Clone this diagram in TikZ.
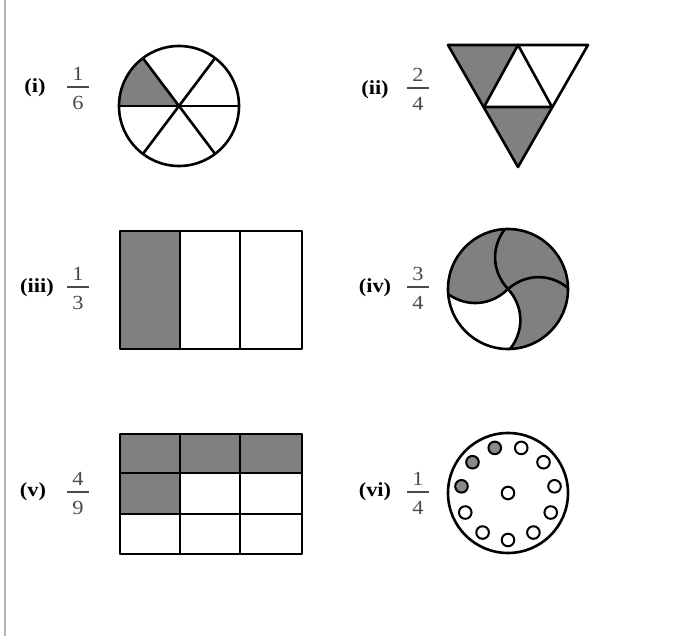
\documentclass[tikz,border=0pt]{standalone}
\usepackage{fontspec}
\usepackage{graphicx}
\setmainfont{Liberation Serif}
\definecolor{partgray}{HTML}{808080}
\definecolor{dotgray}{HTML}{8A8A8A}
\definecolor{fracgray}{HTML}{4A4A4A}
\definecolor{edge}{HTML}{B4B4B4}
\newcommand{\wide}[1]{\scalebox{1.12}[1]{#1}}
\begin{document}
\begin{tikzpicture}[x=1pt,y=-1pt,line join=round,
  outline/.style={draw=black,line width=2.6pt},
  lab/.style={font=\fontsize{20}{20}\selectfont\bfseries,text=black,anchor=base,inner sep=0pt},
  num/.style={font=\fontsize{20}{20}\selectfont,text=fracgray,anchor=base,inner sep=0pt},
  fbar/.style={draw=fracgray,line width=1.2pt},
  dot/.style={draw=black,line width=2pt,fill=white},
  gdot/.style={draw=black,line width=2pt,fill=dotgray}]
\useasboundingbox (0,0) rectangle (673,636);
\draw[draw=edge,line width=2pt] (5,0) -- (5,636);

% ---- labels and fractions ----
\node[lab] (li) at (35,93) {\wide{(i)}};
\node[num] (n1) at (78,81) {\wide{1}};
\node[num] (d1) at (78,110) {\wide{6}};
\draw[fbar] (67,87) -- (89,87);

\node[lab] (lii) at (375,95) {\wide{(ii)}};
\node[num] (n2) at (418,82) {\wide{2}};
\node[num] (d2) at (418,111) {\wide{4}};
\draw[fbar] (407,88) -- (429,88);

\node[lab] (liii) at (37,293) {\wide{(iii)}};
\node[num] (n3) at (78,281) {\wide{1}};
\node[num] (d3) at (78,310) {\wide{3}};
\draw[fbar] (67,287) -- (89,287);

\node[lab] (liv) at (375,293) {\wide{(iv)}};
\node[num] (n4) at (418,281) {\wide{3}};
\node[num] (d4) at (418,310) {\wide{4}};
\draw[fbar] (407,287) -- (429,287);

\node[lab] (lv) at (33,497) {\wide{(v)}};
\node[num] (n5) at (78,486) {\wide{4}};
\node[num] (d5) at (78,515) {\wide{9}};
\draw[fbar] (67,492) -- (89,492);

\node[lab] (lvi) at (375,497) {\wide{(vi)}};
\node[num] (n6) at (418,486) {\wide{1}};
\node[num] (d6) at (418,515) {\wide{4}};
\draw[fbar] (407,492) -- (429,492);

% ---- (i) circle in sixths ----
\begin{scope}[shift={(179,106)},y=1pt]
  \fill[partgray] (0,0) -- (180:60) arc[start angle=180,end angle=127,radius=60] -- cycle;
  \draw[outline] (0,0) circle[radius=60];
  \draw[outline] (180:60) -- (0:60);
  \draw[outline] (127:60) -- (-53:60);
  \draw[outline] (53:60) -- (-127:60);
\end{scope}

% ---- (ii) triangle ----
\fill[partgray] (448,45) -- (518,45) -- (484,107) -- cycle;
\fill[partgray] (484,107) -- (552,107) -- (518,167) -- cycle;
\draw[outline] (448,45) -- (588,45) -- (518,167) -- cycle;
\draw[outline] (518,45) -- (484,107) -- (552,107) -- cycle;

% ---- (iii) rectangle in thirds ----
\fill[partgray] (120,231) rectangle (180,349);
\draw[outline] (120,231) rectangle (302,349);
\draw[outline] (180,231) -- (180,349);
\draw[outline] (240,231) -- (240,349);

% ---- (iv) pinwheel circle ----
\begin{scope}[shift={(508,289)},y=1pt]
  \fill[partgray] (0,0) circle[radius=60];
  \fill[white] (0,0) to[bend left=40] (185:60)
     arc[start angle=185,end angle=272,radius=60]
     to[bend right=40] (0,0);
  \draw[outline] (0,0) to[bend left=40] (93:60);
  \draw[outline] (0,0) to[bend left=40] (1:60);
  \draw[outline] (0,0) to[bend left=40] (272:60);
  \draw[outline] (0,0) to[bend left=40] (185:60);
  \draw[outline] (0,0) circle[radius=60];
\end{scope}

% ---- (v) 3x3 grid ----
\fill[partgray] (120,434) rectangle (302,473);
\fill[partgray] (120,473) rectangle (180,514);
\draw[outline] (120,434) rectangle (302,554);
\draw[outline] (180,434) -- (180,554);
\draw[outline] (240,434) -- (240,554);
\draw[outline] (120,473) -- (302,473);
\draw[outline] (120,514) -- (302,514);

% ---- (vi) circle with dots ----
\begin{scope}[shift={(508,493)},y=1pt]
  \draw[outline] (0,0) circle[radius=60];
  \foreach \k in {0,...,10}{
    \pgfmathsetmacro{\ang}{270+\k*360/11}
    \ifnum\k>5 \ifnum\k<9
      \draw[gdot] (\ang:47) circle[radius=6.3];
    \else
      \draw[dot] (\ang:47) circle[radius=6.3];
    \fi\else
      \draw[dot] (\ang:47) circle[radius=6.3];
    \fi
  }
  \draw[dot] (0,0) circle[radius=6.3];
\end{scope}
\end{tikzpicture}
\end{document}
